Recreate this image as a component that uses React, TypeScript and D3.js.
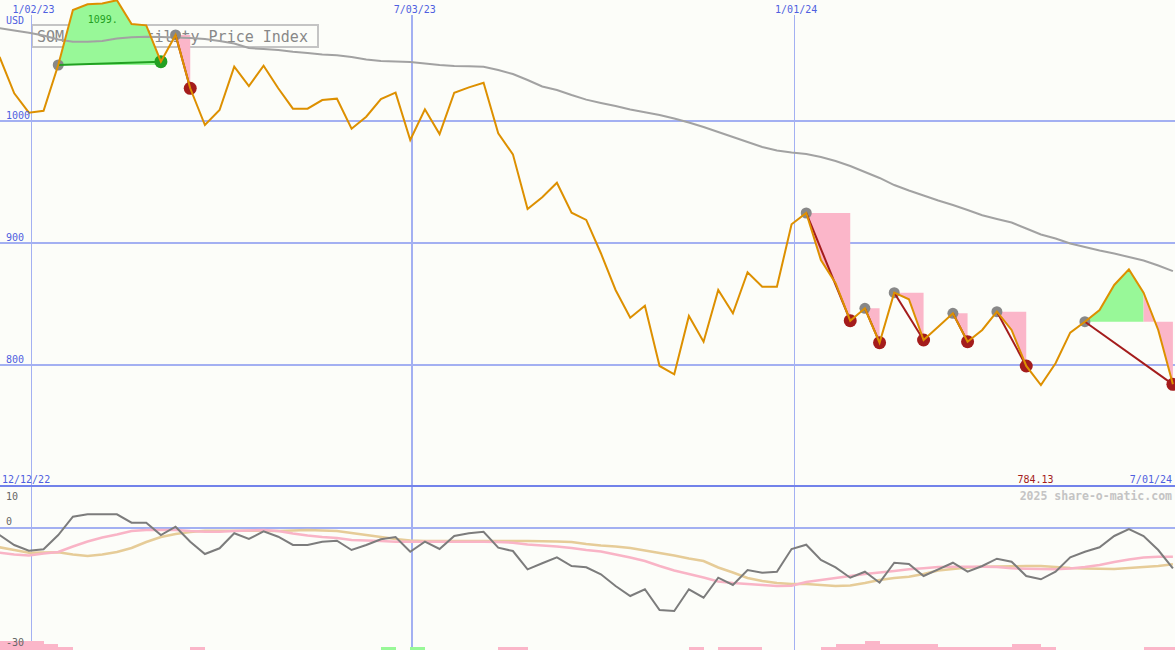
import React from 'react';
import * as d3 from 'd3';

const W = 1175;
const H = 650;

// weekly dates (Sundays) 12/18/22 .. 6/30/24
const firstWeek = '2022-12-18';
const lastWeekExclusive = '2024-07-01';

const price = [
  1052.5, 1022.7, 1006.8, 1008.4, 1045.9, 1091.0, 1095.7, 1096.3, 1099.0, 1079.5,
  1078.4, 1048.6, 1070.5, 1026.8, 996.7, 1009.0, 1044.5, 1028.7, 1045.3, 1026.8,
  1010.1, 1010.1, 1017.2, 1018.3, 993.7, 1003.5, 1018.0, 1023.2, 984.4, 1009.6,
  989.3, 1023.2, 1027.6, 1031.4, 989.9, 972.7, 927.9, 937.5, 949.4, 924.8,
  918.9, 891.6, 861.5, 838.8, 848.6, 799.2, 792.4, 840.2, 819.1, 861.5,
  842.4, 876.0, 864.2, 864.2, 915.3, 924.6, 886.1, 867.0, 836.3, 846.5,
  818.3, 859.3, 853.9, 820.5, 831.4, 842.4, 819.1, 828.7, 843.7, 828.7,
  799.2, 783.6, 801.4, 826.5, 835.5, 845.1, 865.6, 878.4, 859.3, 828.7,
  784.13,
];

const movingAvg = [
  1076.0, 1074.2, 1072.4, 1070.1, 1066.8, 1065.0, 1065.0, 1065.6, 1067.6, 1068.6,
  1069.1, 1068.9, 1068.4, 1068.0, 1067.2, 1065.6, 1063.5, 1059.8, 1059.0, 1058.2,
  1056.8, 1055.7, 1054.5, 1053.9, 1052.5, 1050.4, 1049.2, 1048.8, 1048.4, 1047.1,
  1045.9, 1045.1, 1044.8, 1044.5, 1041.8, 1038.5, 1033.6, 1028.3, 1025.4, 1021.3,
  1017.5, 1014.8, 1012.3, 1009.4, 1007.1, 1004.9, 1002.0, 998.8, 995.1, 991.0,
  986.9, 982.8, 978.7, 975.8, 974.2, 973.0, 970.5, 967.2, 963.1, 958.2,
  953.3, 947.5, 943.0, 938.9, 934.8, 931.1, 927.0, 922.7, 919.7, 916.8,
  911.9, 907.0, 903.7, 899.6, 896.7, 893.9, 891.4, 888.5, 885.7, 881.6,
  877.0,
];

const momentum = [
  -1.78, -4.23, -5.63, -5.29, -1.78, 2.71, 3.3, 3.3, 3.3, 1.24,
  1.24, -1.78, 0.26, -3.42, -6.44, -5.04, -1.36, -2.76, -0.87, -2.2,
  -4.23, -4.23, -3.42, -3.18, -5.46, -4.23, -2.83, -2.27, -5.88, -3.42,
  -5.21, -2.02, -1.36, -0.97, -4.9, -5.71, -10.2, -8.72, -7.25, -9.39,
  -9.71, -11.42, -14.29, -16.75, -15.1, -20.18, -20.43, -15.1, -17.17, -12.26,
  -14.05, -10.37, -11.03, -10.79, -5.21, -4.16, -7.91, -9.71, -12.26, -10.79,
  -13.48, -8.58, -8.9, -11.84, -10.2, -8.58, -10.79, -9.39, -7.6, -8.33,
  -11.84, -12.65, -10.79, -7.25, -5.88, -4.8, -2.02, -0.31, -2.02, -5.46,
  -9.95,
];

const pinkAvg = [
  -6.12, -6.56, -6.81, -6.32, -5.95, -4.6, -3.37, -2.39, -1.66, -0.8,
  -0.55, -0.55, -0.55, -0.8, -0.97, -0.97, -0.8, -0.67, -0.55, -0.8,
  -1.41, -1.9, -2.27, -2.52, -3.01, -3.13, -3.25, -3.42, -3.42, -3.42,
  -3.42, -3.42, -3.42, -3.42, -3.5, -3.67, -4.11, -4.36, -4.6, -4.97,
  -5.46, -5.83, -6.56, -7.3, -8.16, -9.39, -10.49, -11.35, -12.21, -13.19,
  -13.56, -13.8, -14.05, -14.29, -14.25, -13.31, -12.82, -12.33, -11.84, -11.35,
  -10.98, -10.61, -10.2, -9.95, -9.63, -9.56, -9.56, -9.56, -9.63, -9.95,
  -10.05, -10.12, -10.2, -10.0, -9.63, -9.14, -8.4, -7.79, -7.3, -7.1,
  -7.1,
];

const tanAvg = [
  -4.8, -5.46, -6.12, -6.07, -6.02, -6.56, -6.93, -6.56, -5.95, -4.97,
  -3.5, -2.27, -1.53, -1.04, -0.72, -0.72, -0.72, -0.72, -0.75, -0.8,
  -0.67, -0.55, -0.67, -0.8, -1.29, -1.78, -2.27, -2.76, -3.13, -3.25,
  -3.25, -3.25, -3.25, -3.25, -3.25, -3.25, -3.25, -3.33, -3.37, -3.5,
  -3.99, -4.36, -4.6, -4.97, -5.58, -6.2, -6.81, -7.55, -8.16, -9.75,
  -10.98, -12.33, -13.07, -13.56, -13.8, -13.8, -14.05, -14.29, -14.17, -13.56,
  -12.82, -12.33, -12.01, -11.35, -10.49, -10.12, -9.75, -9.56, -9.51, -9.44,
  -9.39, -9.39, -9.63, -9.88, -10.0, -10.05, -10.1, -9.88, -9.63, -9.39,
  -8.97,
];

// histogram at the bottom (negative = pink, positive = green)
const barLevel = [
  -3, -3, -3, -2, -1, 0, 0, 0, 0, 0,
  0, 0, 0, -1, 0, 0, 0, 0, 0, 0,
  0, 0, 0, 0, 0, 0, 1, 0, 1, 0,
  0, 0, 0, 0, -1, -1, 0, 0, 0, 0,
  0, 0, 0, 0, 0, 0, 0, -1, 0, -1,
  -1, -1, 0, 0, 0, 0, -1, -2, -2, -3,
  -2, -2, -2, -2, -1, -1, -1, -1, -1, -2,
  -2, -1, 0, 0, 0, 0, 0, 0, -1, -1,
  -1,
];

// signals
const signalStart = ['2023-01-15', '2023-03-12', '2024-01-07', '2024-02-04', '2024-02-18', '2024-03-17', '2024-04-07', '2024-05-19'];
const signalEnd = ['2023-03-05', '2023-03-19', '2024-01-28', '2024-02-11', '2024-03-03', '2024-03-24', '2024-04-21', '2024-06-30'];
const signalKind = ['up', 'down', 'down', 'down', 'down', 'down', 'down', 'down'];

const fillFrom = ['2023-01-15', '2023-03-12', '2024-01-07', '2024-02-04', '2024-02-18', '2024-03-17', '2024-04-07', '2024-05-19', '2024-06-16'];
const fillTo = ['2023-03-05', '2023-03-19', '2024-01-28', '2024-02-11', '2024-03-03', '2024-03-24', '2024-04-21', '2024-06-16', '2024-06-30'];
const fillRef = ['2023-01-15', '2023-03-12', '2024-01-07', '2024-02-04', '2024-02-18', '2024-03-17', '2024-04-07', '2024-05-19', '2024-05-19'];
const fillKind = ['up', 'down', 'down', 'down', 'down', 'down', 'down', 'up', 'down'];

const gridDates = ['2023-01-02', '2023-07-03', '2024-01-01'];
const gridLabels = ['1/02/23', '7/03/23', '1/01/24'];
const gridWidths = [1, 2, 1];
const priceTicks = [1000, 900, 800];
const lowTicks = [10, 0, -30];

const titleText = 'SOM Low Volatility Price Index';
const currency = 'USD';
const startLabel = '12/12/22';
const endLabel = '7/01/24';
const lastLabel = '784.13';
const highLabel = '1099.';
const watermark = '2025 share-o-matic.com';

const parse = d3.timeParse('%Y-%m-%d');
const weeks = d3.timeWeek.range(parse(firstWeek)!, parse(lastWeekExclusive)!);
const idx = (s: string) => weeks.findIndex((d) => +d === +parse(s)!);

const BLUE_TEXT = '#4f5fe0';
const GRID = '#a3b0f2';
const PRICE = '#dd9000';
const PINK_FILL = '#fbb6c9';
const GREEN_FILL = '#98f898';
const DARK_RED = '#a41c1c';
const DARK_GREEN = '#22a022';
const MONO = '"DejaVu Sans Mono", monospace';

export default function App() {
  const x = d3.scaleTime().domain([parse('2023-01-02')!, parse('2024-07-01')!]).range([31, 1175]);
  const y = d3.scaleLinear().domain([800, 1000]).range([365, 121]);
  const yl = d3.scaleLinear().domain([-30, 10]).range([650, 487]);
  const yb = d3.scaleLinear().domain([0, 3]).range([650, 641]);

  const priceLine = d3.line<number>().x((_, i) => x(weeks[i])).y((d) => y(d));
  const avgLine = d3.line<number>().x((_, i) => x(weeks[i])).y((d) => y(d));
  const lowLine = d3.line<number>().x((_, i) => x(weeks[i])).y((d) => yl(d));

  const fills = fillFrom.map((f, j) => {
    const a = idx(f);
    const b = idx(fillTo[j]);
    const ref = price[idx(fillRef[j])];
    const seg = d3.range(a, b + 1);
    const area = d3
      .area<number>()
      .x((i) => x(weeks[i]))
      .y0(() => y(ref))
      .y1((i) => y(price[i]));
    return { d: area(seg) || '', kind: fillKind[j] };
  });

  const maxI = d3.maxIndex(price);
  const lastI = price.length - 1;

  return (
    <svg
      width={W}
      height={H}
      style={{ position: 'fixed', left: 0, top: 0, background: '#fcfdf9', display: 'block' }}
      fontFamily={MONO}
    >
      <rect x={0} y={0} width={W} height={H} fill="#fcfdf9" />

      {/* legend box */}
      <rect x={32} y={25} width={286} height={22} fill="none" stroke="#c4c4c4" strokeWidth={2} />
      <text x={37} y={41.5} fontSize={15} fill="#888888">
        {titleText}
      </text>

      {/* horizontal grid upper */}
      {priceTicks.map((t) => (
        <line key={t} x1={0} x2={W} y1={y(t)} y2={y(t)} stroke={GRID} strokeWidth={2} shapeRendering="crispEdges" />
      ))}
      {/* vertical grid */}
      {gridDates.map((g, i) => (
        <line
          key={g}
          x1={Math.round(x(parse(g)!)) + (gridWidths[i] === 1 ? 0.5 : 0)}
          x2={Math.round(x(parse(g)!)) + (gridWidths[i] === 1 ? 0.5 : 0)}
          y1={15}
          y2={H}
          stroke={GRID}
          strokeWidth={gridWidths[i]}
          shapeRendering="crispEdges"
        />
      ))}
      {/* lower zero line */}
      <line x1={0} x2={W} y1={yl(0)} y2={yl(0)} stroke={GRID} strokeWidth={2} shapeRendering="crispEdges" />
      {/* separator */}
      <line x1={0} x2={W} y1={486} y2={486} stroke="#7282ea" strokeWidth={2} shapeRendering="crispEdges" />

      {/* fills */}
      {fills.map((f, j) => (
        <path key={j} d={f.d} fill={f.kind === 'up' ? GREEN_FILL : PINK_FILL} stroke="none" />
      ))}

      {/* moving average */}
      <path d={avgLine(movingAvg) || ''} fill="none" stroke="#a2a2a2" strokeWidth={2} />

      {/* start dots */}
      {signalStart.map((s) => (
        <circle key={s} cx={x(weeks[idx(s)])} cy={y(price[idx(s)])} r={5.5} fill="#888888" />
      ))}
      {/* connectors */}
      {signalStart.map((s, j) => (
        <line
          key={'c' + s}
          x1={x(weeks[idx(s)])}
          y1={y(price[idx(s)])}
          x2={x(weeks[idx(signalEnd[j])])}
          y2={y(price[idx(signalEnd[j])])}
          stroke={signalKind[j] === 'up' ? DARK_GREEN : DARK_RED}
          strokeWidth={2}
        />
      ))}
      {/* end dots */}
      {signalEnd.map((s, j) => (
        <circle
          key={'e' + s}
          cx={x(weeks[idx(s)])}
          cy={y(price[idx(s)])}
          r={6.5}
          fill={signalKind[j] === 'up' ? DARK_GREEN : DARK_RED}
        />
      ))}

      {/* price */}
      <path d={priceLine(price) || ''} fill="none" stroke={PRICE} strokeWidth={2} strokeLinejoin="miter" />

      {/* labels upper */}
      {gridDates.map((g, i) => (
        <text key={'l' + g} x={x(parse(g)!) + 2.5} y={12.5} fontSize={10} fill={BLUE_TEXT} textAnchor="middle">
          {gridLabels[i]}
        </text>
      ))}
      <text x={6} y={24} fontSize={10} fill={BLUE_TEXT}>
        {currency}
      </text>
      {priceTicks.map((t) => (
        <text key={'t' + t} x={6} y={y(t) - 1.8} fontSize={10} fill={BLUE_TEXT}>
          {t}
        </text>
      ))}
      <text x={x(weeks[maxI]) + 1} y={y(price[maxI]) + 23} fontSize={10} fill={DARK_GREEN} textAnchor="end">
        {highLabel}
      </text>

      {/* bottom strip labels */}
      <text x={2} y={483} fontSize={10} fill={BLUE_TEXT}>
        {startLabel}
      </text>
      <text x={1172} y={483} fontSize={10} fill={BLUE_TEXT} textAnchor="end">
        {endLabel}
      </text>
      <text x={1053.5} y={483} fontSize={10} fill={DARK_RED} textAnchor="end">
        {lastLabel}
      </text>
      <text x={1172} y={499.5} fontSize={11.5} fontWeight="bold" fill="#c4c4c4" textAnchor="end">
        {watermark}
      </text>

      {/* lower panel bars */}
      {barLevel.map((b, i) =>
        b === 0 ? null : (
          <rect
            key={'b' + i}
            x={x(weeks[i])}
            y={yb(Math.abs(b))}
            width={x(d3.timeWeek.offset(weeks[i], 1)) - x(weeks[i])}
            height={yb(0) - yb(Math.abs(b))}
            fill={b > 0 ? GREEN_FILL : PINK_FILL}
            shapeRendering="crispEdges"
          />
        )
      )}

      {/* lower lines */}
      <path d={lowLine(tanAvg) || ''} fill="none" stroke="#e6cc98" strokeWidth={2.5} />
      <path d={lowLine(pinkAvg) || ''} fill="none" stroke="#f9b4c6" strokeWidth={2.5} />
      <path d={lowLine(momentum) || ''} fill="none" stroke="#7c7c7c" strokeWidth={2} />

      {/* lower ticks */}
      <text x={6} y={yl(lowTicks[0]) + 13} fontSize={10} fill="#666666">
        {lowTicks[0]}
      </text>
      <text x={6} y={yl(lowTicks[1]) - 2.7} fontSize={10} fill="#666666">
        {lowTicks[1]}
      </text>
      <text x={6} y={yl(lowTicks[2]) - 4} fontSize={10} fill="#666666">
        {lowTicks[2]}
      </text>
    </svg>
  );
}
